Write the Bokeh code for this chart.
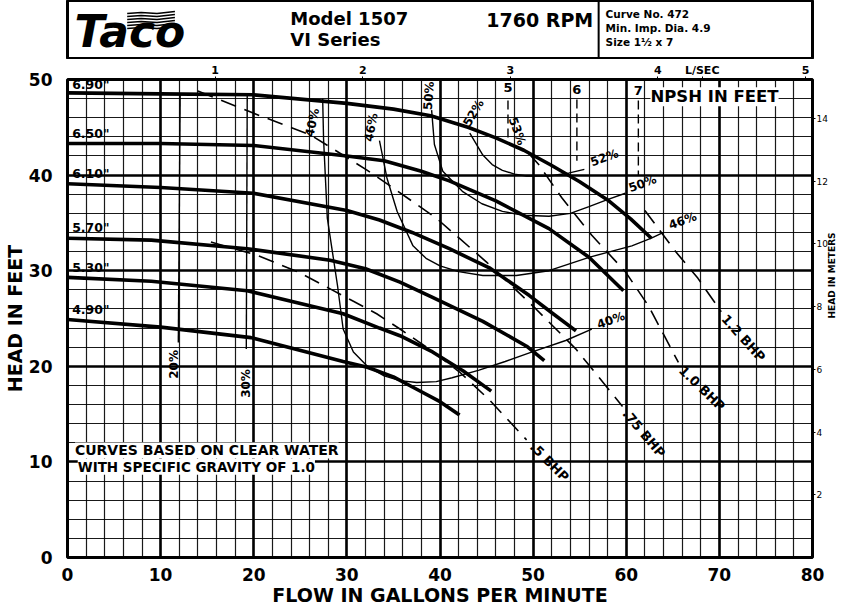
import math
from bokeh.plotting import figure
from bokeh.models import (Range1d, LinearAxis, SingleIntervalTicker, FixedTicker, Label)
from bokeh.layouts import column
from bokeh.embed import file_html
from bokeh.resources import INLINE
from bokeh.core.properties import value

FONT = "DejaVu Sans"

# ---------------- data (flow GPM, head ft) ----------------
imp_labels = ['6.90"', '6.50"', '6.10"', '5.70"', '5.30"', '4.90"']
q_690 = [0, 10, 20, 30, 35, 39, 43, 46, 49, 52, 55, 58, 60.5, 62.7]
h_690 = [48.6, 48.5, 48.4, 47.5, 46.9, 46.2, 45.0, 43.9, 42.6, 41.0, 39.3, 37.4, 35.4, 33.4]
q_650 = [0, 10, 20, 30, 34, 38, 41, 46, 51.7, 56, 59.7]
h_650 = [43.3, 43.3, 43.1, 42.0, 41.5, 40.4, 39.4, 37.3, 34.4, 31.4, 27.9]
q_610 = [0, 10, 20, 30, 33.5, 37, 41, 45.3, 49.6, 52, 54.6]
h_610 = [39.1, 38.7, 38.1, 36.3, 35.3, 34.0, 32.3, 30.3, 27.4, 25.6, 23.7]
q_570 = [0, 9, 19.3, 28.2, 32, 35.7, 39.2, 44.6, 49.3, 51.2]
h_570 = [33.4, 33.2, 32.3, 31.1, 30.2, 28.8, 27.2, 24.7, 22.1, 20.6]
q_530 = [0, 9, 19.3, 29.6, 33.5, 35.7, 39.2, 42.5, 45.5]
h_530 = [29.3, 28.9, 27.9, 25.5, 24.0, 23.2, 21.5, 19.5, 17.4]
q_490 = [0, 10, 19.7, 29.6, 32.2, 35, 37.5, 40, 42.1]
h_490 = [24.9, 24.1, 23.0, 20.5, 19.9, 18.9, 17.6, 16.3, 14.9]

# efficiency curves
e20_q = [12.1, 11.9]
e20_h = [48.6, 22.5]
e30_q = [19.3, 19.2]
e30_h = [48.4, 21.8]
e40_q = [27.4, 27.5, 27.9, 29.0, 29.6, 30.7, 32.2, 34, 35.7, 37.5, 39.6, 41.3, 44.2, 47, 49.6, 53.5, 56.3]
e40_h = [48.0, 43.7, 35.5, 28.4, 23.9, 21.5, 20.0, 19.0, 18.5, 18.3, 18.4, 18.8, 19.6, 20.5, 21.4, 22.7, 23.9]
e46_q = [33.5, 34.3, 35.4, 37.1, 38.5, 40, 42, 44.6, 48.2, 51.7, 56, 60.6, 62.7, 64]
e46_h = [43.6, 39.7, 36.2, 32.6, 31.3, 30.5, 29.9, 29.5, 29.5, 30.0, 31.4, 32.6, 33.4, 34.0]
e50_q = [39.1, 39.4, 40.3, 42.4, 44.5, 46.7, 49, 51.7, 54, 56, 57.9, 59.9]
e50_h = [46.8, 43.2, 40.4, 38.3, 37.0, 36.2, 35.8, 35.7, 36.0, 36.7, 37.4, 38.1]
e52_q = [43.2, 44.6, 45.6, 46.7, 48, 49.3, 51.7, 53.8, 55.5]
e52_h = [44.4, 42.1, 41.1, 40.5, 40.1, 39.9, 39.9, 40.2, 40.6]

# brake horsepower lines
b05_q = [15.4, 20.4, 24.7, 28.2, 30.7, 33.2, 35.7, 39, 42.1, 45.3, 49.3]
b05_h = [33.0, 31.6, 29.9, 28.1, 26.8, 25.5, 23.9, 21.7, 19.4, 16.5, 12.3]
b075_q = [14.0, 20.7, 26.1, 32.2, 34.6, 39.6, 45.0, 50.3, 54.6, 59.6]
b075_h = [48.8, 46.2, 44.2, 40.5, 38.9, 35.5, 30.9, 26.0, 21.8, 15.8]
b10_q = [49.5, 50.6, 53.1, 56.3, 59.9, 62.4, 65.6]
b10_h = [42.3, 41.1, 37.6, 33.7, 29.9, 26.3, 20.4]
b12_q = [62.0, 65.3, 67.7, 70.2]
b12_h = [36.3, 32.0, 29.2, 25.7]

# NPSH markers
npsh_text = ["5", "6", "7"]
npsh_q = [47.3, 54.7, 61.3]
npsh_top = [47.8, 47.9, 47.8]
npsh_bot = [43.7, 41.5, 40.0]
npsh_label_y = [49.2, 49.0, 48.8]

# labels
eff_text = ["20%", "30%", "40%", "46%", "50%", "52%", "53%"]
eff_x = [11.4, 19.2, 26.3, 32.6, 38.8, 43.6, 48.3]
eff_y = [20.2, 18.2, 45.5, 45.0, 48.3, 46.5, 44.6]
eff_ang = [90, 90, 78, 80, 86, 60, -70]
eff_r_text = ["52%", "50%", "46%", "40%"]
eff_r_x = [56.2, 60.3, 64.6, 56.9]
eff_r_y = [41.3, 38.6, 34.7, 24.3]
bhp_text = [".5 BHP", ".75 BHP", "1.0 BHP", "1.2 BHP"]
bhp_x = [49.9, 59.9, 65.9, 70.5]
bhp_y = [11.8, 15.3, 19.8, 25.2]
bhp_ang = [-45, -50, -44, -48]

lps_ticks = [1, 2, 3, 4, 4.3, 5]
lps_names = {4.3: "L/SEC"}
m_ticks = [2, 4, 6, 8, 10, 12, 14]
GPM_PER_LPS = 15.8503
FT_PER_M = 3.28084

# label offsets above each impeller curve (style)
imp_label_gap = [0.05, 0.3, 0.3, 0.3, 0.3, 0.3]

# ---------------- header (page-pixel coordinates) ----------------
h = figure(width=844, height=59, x_range=Range1d(66, 815), y_range=Range1d(59, 0),
           output_backend="svg", toolbar_location=None, min_border=0,
           x_axis_location=None, y_axis_location=None)
h.grid.visible = False
h.outline_line_color = "black"
h.outline_line_width = 3
h.segment(x0=[600], y0=[0], x1=[600], y1=[59], line_color="black", line_width=2)
h.text(x=[73], y=[31], text=["Taco"], text_font=value(FONT), text_font_style="bold italic",
       text_font_size="44px", text_baseline="middle", text_color="black")
flag_y = [12, 15, 18, 21, 24, 27]
h.multi_line(xs=[[126, 140, 156, 174]] * 6,
             ys=[[y + 1, y, y + 1, y - 1] for y in flag_y],
             line_color="black", line_width=1.4)
h.text(x=[290, 290], y=[18, 39], text=["Model 1507", "VI Series"], text_font=value(FONT),
       text_font_style="bold", text_font_size="18px", text_baseline="middle")
h.text(x=[487], y=[19], text=["1760 RPM"], text_font=value(FONT),
       text_font_style="bold", text_font_size="19px", text_baseline="middle")
h.text(x=[607, 607, 607], y=[13, 27, 41],
       text=["Curve No. 472", "Min. Imp. Dia. 4.9", "Size 1½ x 7"],
       text_font=value(FONT), text_font_style="bold", text_font_size="10.5px",
       text_baseline="middle")

# ---------------- main chart ----------------
p = figure(width=844, height=550, x_range=Range1d(0, 80), y_range=Range1d(0, 50),
           output_backend="svg", toolbar_location=None,
           min_border_left=66, min_border_right=29, min_border_top=20, min_border_bottom=52)
p.background_fill_color = "white"
p.outline_line_color = "black"
p.outline_line_width = 3

for ax, standoff in ((p.xaxis[0], 4), (p.yaxis[0], 9)):
    ax.ticker = SingleIntervalTicker(interval=10, num_minor_ticks=5)
    ax.major_tick_line_color = None
    ax.minor_tick_line_color = None
    ax.axis_line_color = None
    ax.major_label_text_font = FONT
    ax.major_label_text_font_style = "bold"
    ax.major_label_text_font_size = "17px"
    ax.major_label_text_color = "black"
    ax.major_label_standoff = standoff
    ax.axis_label_text_font = FONT
    ax.axis_label_text_font_style = "bold"
    ax.axis_label_text_font_size = "19px"
    ax.axis_label_text_color = "black"
    ax.axis_label_standoff = 0
p.xaxis.axis_label = "FLOW IN GALLONS PER MINUTE"
p.yaxis.axis_label = "HEAD IN FEET"

for g in (p.xgrid[0], p.ygrid[0]):
    g.grid_line_color = "black"
    g.grid_line_width = 2.6
    g.grid_line_alpha = 1.0
    g.minor_grid_line_color = "black"
    g.minor_grid_line_width = 1.2
    g.minor_grid_line_alpha = 0.9

# right axis in meters
p.extra_y_ranges = {"m": Range1d(0, 50 / FT_PER_M)}
rax = LinearAxis(y_range_name="m", ticker=FixedTicker(ticks=m_ticks))
rax.major_tick_out = 3
rax.major_tick_in = 0
rax.minor_tick_line_color = None
rax.axis_line_color = None
rax.major_label_text_font = FONT
rax.major_label_text_font_size = "9px"
rax.major_label_text_color = "black"
rax.major_label_standoff = 1
rax.axis_label = "HEAD IN METERS"
rax.axis_label_text_font = FONT
rax.axis_label_text_font_style = "bold"
rax.axis_label_text_font_size = "9px"
rax.axis_label_text_color = "black"
rax.axis_label_standoff = 1
rax.axis_label_orientation = math.pi / 2
p.add_layout(rax, "right")

# top axis in litres per second
p.extra_x_ranges = {"lps": Range1d(0, 80 / GPM_PER_LPS)}
tax = LinearAxis(x_range_name="lps", ticker=FixedTicker(ticks=lps_ticks))
tax.major_label_overrides = lps_names
tax.major_tick_out = 3
tax.major_tick_in = 0
tax.minor_tick_line_color = None
tax.axis_line_color = None
tax.major_label_text_font = FONT
tax.major_label_text_font_style = "bold"
tax.major_label_text_font_size = "11px"
tax.major_label_text_color = "black"
tax.major_label_standoff = 0
p.add_layout(tax, "above")

# impeller curves
imp_q = [q_690, q_650, q_610, q_570, q_530, q_490]
imp_h = [h_690, h_650, h_610, h_570, h_530, h_490]
p.multi_line(xs=imp_q, ys=imp_h, line_color="black", line_width=3.6)
p.text(x=[0.5] * 6, y=[hh[0] + g for hh, g in zip(imp_h, imp_label_gap)], text=imp_labels,
       text_font=value(FONT), text_font_style="bold", text_font_size="12.5px",
       text_baseline="bottom", text_align="left", text_color="black")

# efficiency curves
p.multi_line(xs=[e20_q, e30_q, e40_q, e46_q, e50_q, e52_q],
             ys=[e20_h, e30_h, e40_h, e46_h, e50_h, e52_h],
             line_color="black", line_width=1.4)
p.text(x=eff_x, y=eff_y, text=eff_text, angle=[math.radians(a) for a in eff_ang],
       text_font=value(FONT), text_font_style="bold", text_font_size="12px",
       text_align="center", text_baseline="middle", text_color="black")
p.text(x=eff_r_x, y=eff_r_y, text=eff_r_text, angle=[math.radians(20)] * 4,
       text_font=value(FONT), text_font_style="bold", text_font_size="12px",
       text_align="left", text_baseline="middle", text_color="black")

# BHP lines
p.multi_line(xs=[b05_q, b075_q, b10_q, b12_q], ys=[b05_h, b075_h, b10_h, b12_h],
             line_color="black", line_width=1.6, line_dash="16 9")
p.text(x=bhp_x, y=bhp_y, text=bhp_text, angle=[math.radians(a) for a in bhp_ang],
       text_font=value(FONT), text_font_style="bold", text_font_size="13px",
       text_align="left", text_baseline="middle", text_color="black")

# NPSH
p.segment(x0=npsh_q, y0=npsh_top, x1=npsh_q, y1=npsh_bot, line_color="black",
          line_width=1.4, line_dash="9 5")
p.text(x=npsh_q, y=npsh_label_y, text=npsh_text, text_font=value(FONT),
       text_font_style="bold", text_font_size="13px", text_align="center",
       text_baseline="middle", text_color="black")
p.add_layout(Label(x=62.6, y=48.2, text="NPSH IN FEET", text_font=FONT,
                   text_font_style="bold", text_font_size="16.5px", text_baseline="middle",
                   text_color="black", background_fill_color="white"))

# notes
p.add_layout(Label(x=0.8, y=11.2, text="CURVES BASED ON CLEAR WATER", text_font=FONT,
                   text_font_style="bold", text_font_size="14px", text_baseline="middle",
                   text_color="black", background_fill_color="white"))
p.add_layout(Label(x=1.1, y=9.5, text="WITH SPECIFIC GRAVITY OF 1.0", text_font=FONT,
                   text_font_style="bold", text_font_size="13.5px", text_baseline="middle",
                   text_color="black", background_fill_color="white"))

layout = column(h, p, spacing=0)
open("out.html", "w").write(file_html(layout, INLINE))
